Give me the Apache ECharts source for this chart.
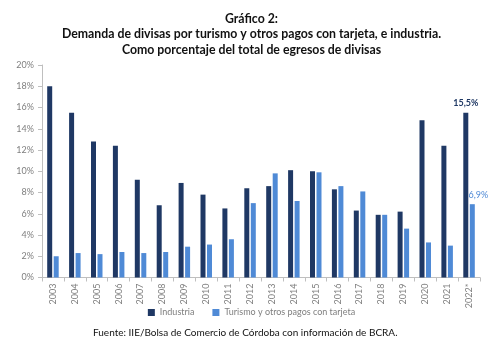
<!DOCTYPE html>
<html><head><meta charset="utf-8">
<script src="https://cdn.jsdelivr.net/npm/echarts@6/dist/echarts.min.js"></script>
<style>html,body{margin:0;padding:0;background:#fff}#c{width:503px;height:343px}</style>
</head><body><div id="c"></div>
<script>
const categories = ['2003','2004','2005','2006','2007','2008','2009','2010','2011','2012','2013','2014','2015','2016','2017','2018','2019','2020','2021','2022*'];
const industria = [18.0,15.5,12.8,12.4,9.2,6.8,8.9,7.8,6.5,8.4,8.6,10.1,10.0,8.3,6.3,5.9,6.2,14.8,12.4,15.5];
const turismo = [2.0,2.3,2.2,2.4,2.3,2.4,2.9,3.1,3.6,7.0,9.8,7.2,9.9,8.6,8.1,5.9,4.6,3.3,3.0,6.9];
const titleText = 'Gráfico 2:\nDemanda de divisas por turismo y otros pagos con tarjeta, e industria.\nComo porcentaje del total de egresos de divisas';
const sourceText = 'Fuente: IIE/Bolsa de Comercio de Córdoba con información de BCRA.';
const FONT = 'Lato, "Open Sans", sans-serif';
const navy = '#1f3864', blue = '#4f8ad6';
const chart = echarts.init(document.getElementById('c'));
chart.setOption({
  animation:false,
  textStyle:{fontFamily:FONT},
  title:[{text:titleText,left:'center',top:6,textStyle:{fontFamily:FONT,fontSize:12.3,fontWeight:'bold',color:'#111',lineHeight:15.5}},
         {text:sourceText,left:88,top:323,textStyle:{fontFamily:FONT,fontSize:10,fontWeight:'normal',color:'#111'}}],
  legend:{bottom:21,left:'center',itemWidth:7,itemHeight:7,itemGap:18,icon:'rect',
    textStyle:{fontFamily:FONT,fontSize:9,color:'#7f7f7f'},data:['Industria','Turismo y otros pagos con tarjeta']},
  grid:{left:42,right:23,top:65,bottom:65.5,containLabel:false},
  xAxis:{type:'category',data:categories,
    axisLine:{lineStyle:{color:'#bfbfbf'}},axisTick:{show:true,length:4,lineStyle:{color:'#bfbfbf'}},
    axisLabel:{rotate:90,fontSize:9,color:'#7f7f7f',margin:6}},
  yAxis:{type:'value',min:0,max:20,interval:2,
    axisLine:{show:true,lineStyle:{color:'#bfbfbf'}},axisTick:{show:true,length:4,lineStyle:{color:'#bfbfbf'}},
    splitLine:{show:false},
    axisLabel:{fontSize:9,color:'#7f7f7f',margin:8,formatter:v=>v+'%'}},
  series:[
    {name:'Industria',type:'bar',data:industria.map((v,i)=>i===industria.length-1?{value:v,label:{show:true,position:'top',distance:5,formatter:p=>p.value.toFixed(1).replace('.',',')+'%',fontSize:9,fontWeight:'bold',color:navy}}:v),
     barWidth:5,barGap:'30%',itemStyle:{color:navy}},
    {name:'Turismo y otros pagos con tarjeta',type:'bar',data:turismo.map((v,i)=>i===turismo.length-1?{value:v,label:{show:true,position:'top',distance:5,offset:[6,0],formatter:p=>p.value.toFixed(1).replace('.',',')+'%',fontSize:9,color:blue}}:v),
     barWidth:5,itemStyle:{color:blue}}
  ]
});
</script></body></html>
